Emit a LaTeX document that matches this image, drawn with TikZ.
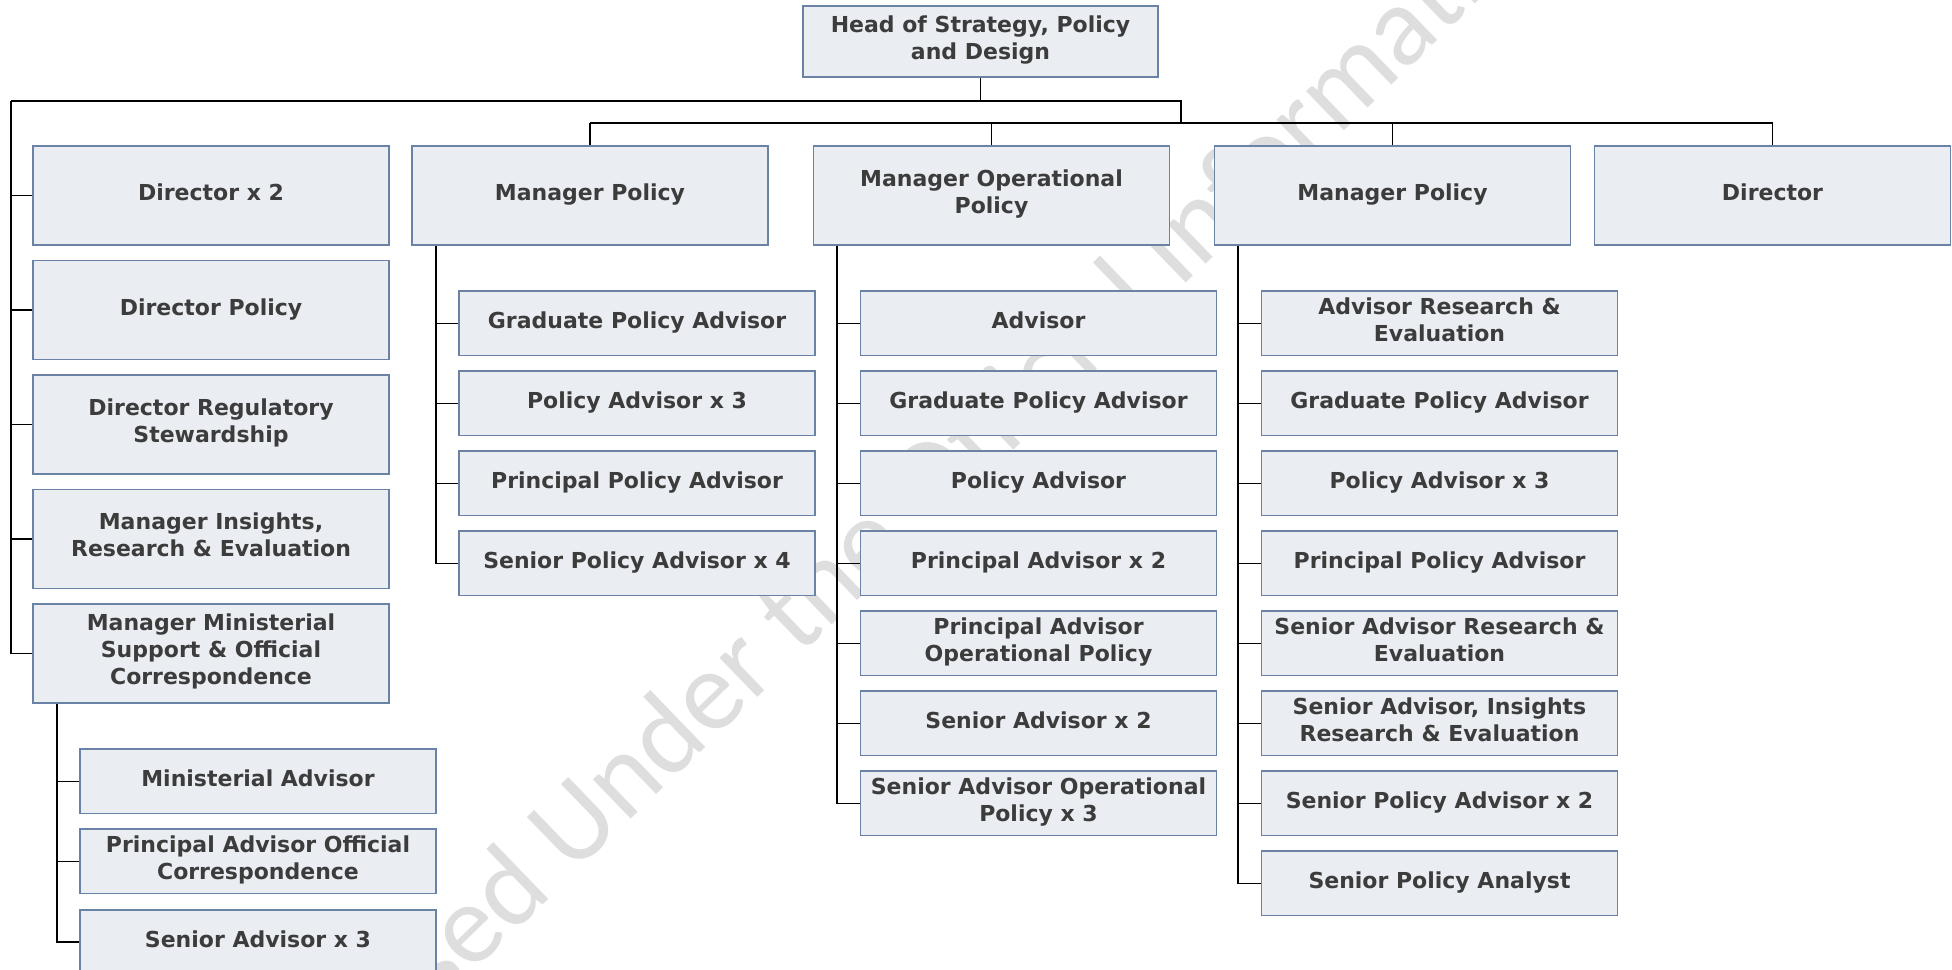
\documentclass[tikz,border=0pt]{standalone}
\usepackage{fontspec}
\setmainfont{DejaVu Sans}
\newfontfamily\wmfont{Carlito}
\definecolor{boxfill}{HTML}{EAEDF2}
\definecolor{boxline}{HTML}{6A82A5}
\definecolor{txt}{HTML}{3C3C3C}
\definecolor{wm}{HTML}{DEDEDE}
\tikzset{
  base/.style={draw=boxline, fill=boxfill, line width=0.75pt, inner sep=0pt, align=center,
    text=txt, font=\fontsize{11}{13.5}\selectfont\bfseries,
    execute at begin node={\strut}, execute at end node={\strut}},
  bigbox/.style={base, minimum width=178pt, minimum height=49.5pt},
  smallbox/.style={base, minimum width=178pt, minimum height=32.25pt},
  headbox/.style={base, minimum width=177.5pt, minimum height=35.5pt},
  conn/.style={draw=black, line width=0.8pt}
}
\begin{document}
\begin{tikzpicture}[x=0.5pt, y=-0.5pt]
\useasboundingbox (0,0) rectangle (1952,969);
\clip (0,0) rectangle (1952,969);
\fill[white] (0,0) rectangle (1952,969);
% watermark
\node[rotate=44, anchor=base west, inner sep=0pt, text=wm, font=\wmfont\fontsize{57}{57}\selectfont] (wmark) at (470,975) {\llap{Releas}ed Under the Official Information Act};

% top
\node[headbox] (head) at (980.5,41.5) {Head of Strategy, Policy\\and Design};
\node[bigbox] (mp1) at (590,195.5) {Manager Policy};
\node[bigbox] (mop) at (991.5,195.5) {Manager Operational\\Policy};
\node[bigbox] (mp2) at (1392.5,195.5) {Manager Policy};
\node[bigbox] (dir) at (1772.5,195.5) {Director};

% left column
\node[bigbox] (l1) at (211,195.5) {Director x 2};
\node[bigbox] (l2) at (211,310) {Director Policy};
\node[bigbox] (l3) at (211,424.5) {Director Regulatory\\Stewardship};
\node[bigbox] (l4) at (211,539) {Manager Insights,\\Research \& Evaluation};
\node[bigbox] (l5) at (211,653.5) {Manager Ministerial\\Support \& Official\\Correspondence};

% ministerial children
\node[smallbox] (m1) at (258,781.3) {Ministerial Advisor};
\node[smallbox] (m2) at (258,861.3) {Principal Advisor Official\\Correspondence};
\node[smallbox] (m3) at (258,942) {Senior Advisor x 3};

% manager policy 1 children
\node[smallbox] (a1) at (637,323.4) {Graduate Policy Advisor};
\node[smallbox] (a2) at (637,403.4) {Policy Advisor x 3};
\node[smallbox] (a3) at (637,483.4) {Principal Policy Advisor};
\node[smallbox] (a4) at (637,563.4) {Senior Policy Advisor x 4};

% manager operational policy children
\node[smallbox] (b1) at (1038.5,323.4) {Advisor};
\node[smallbox] (b2) at (1038.5,403.4) {Graduate Policy Advisor};
\node[smallbox] (b3) at (1038.5,483.4) {Policy Advisor};
\node[smallbox] (b4) at (1038.5,563.4) {Principal Advisor x 2};
\node[smallbox] (b5) at (1038.5,643.4) {Principal Advisor\\Operational Policy};
\node[smallbox] (b6) at (1038.5,723.4) {Senior Advisor x 2};
\node[smallbox] (b7) at (1038.5,803.4) {Senior Advisor Operational\\Policy x 3};

% manager policy 2 children
\node[smallbox] (c1) at (1439.5,323.4) {Advisor Research \&\\Evaluation};
\node[smallbox] (c2) at (1439.5,403.4) {Graduate Policy Advisor};
\node[smallbox] (c3) at (1439.5,483.4) {Policy Advisor x 3};
\node[smallbox] (c4) at (1439.5,563.4) {Principal Policy Advisor};
\node[smallbox] (c5) at (1439.5,643.4) {Senior Advisor Research \&\\Evaluation};
\node[smallbox] (c6) at (1439.5,723.4) {Senior Advisor, Insights\\Research \& Evaluation};
\node[smallbox] (c7) at (1439.5,803.4) {Senior Policy Advisor x 2};
\node[smallbox] (c8) at (1439.5,883.4) {Senior Policy Analyst};

% buses
\coordinate (busL) at (11,101);
\coordinate (busR) at (1181,101);
\coordinate (bus2) at (1181,123);
\draw[conn] (head.south) -- (head.south |- busL);
\draw[conn] (busL) -- (busR) -- (bus2);
\draw[conn] (mp1.north |- bus2) -- (dir.north |- bus2);
\foreach \n in {mp1,mop,mp2,dir} {\draw[conn] (\n.north |- bus2) -- (\n.north);}
\draw[conn] (busL) |- (l5.west);
\foreach \n in {l1,l2,l3,l4} {\draw[conn] (busL |- \n.west) -- (\n.west);}

% trunks
\coordinate (tm) at ([xshift=12.25pt]l5.south west);
\coordinate (ta) at ([xshift=12.25pt]mp1.south west);
\coordinate (tb) at ([xshift=12.25pt]mop.south west);
\coordinate (tc) at ([xshift=12.25pt]mp2.south west);
\foreach \n in {m1,m2,m3} {\draw[conn] (tm) |- (\n.west);}
\foreach \n in {a1,a2,a3,a4} {\draw[conn] (ta) |- (\n.west);}
\foreach \n in {b1,b2,b3,b4,b5,b6,b7} {\draw[conn] (tb) |- (\n.west);}
\foreach \n in {c1,c2,c3,c4,c5,c6,c7,c8} {\draw[conn] (tc) |- (\n.west);}
\end{tikzpicture}
\end{document}
